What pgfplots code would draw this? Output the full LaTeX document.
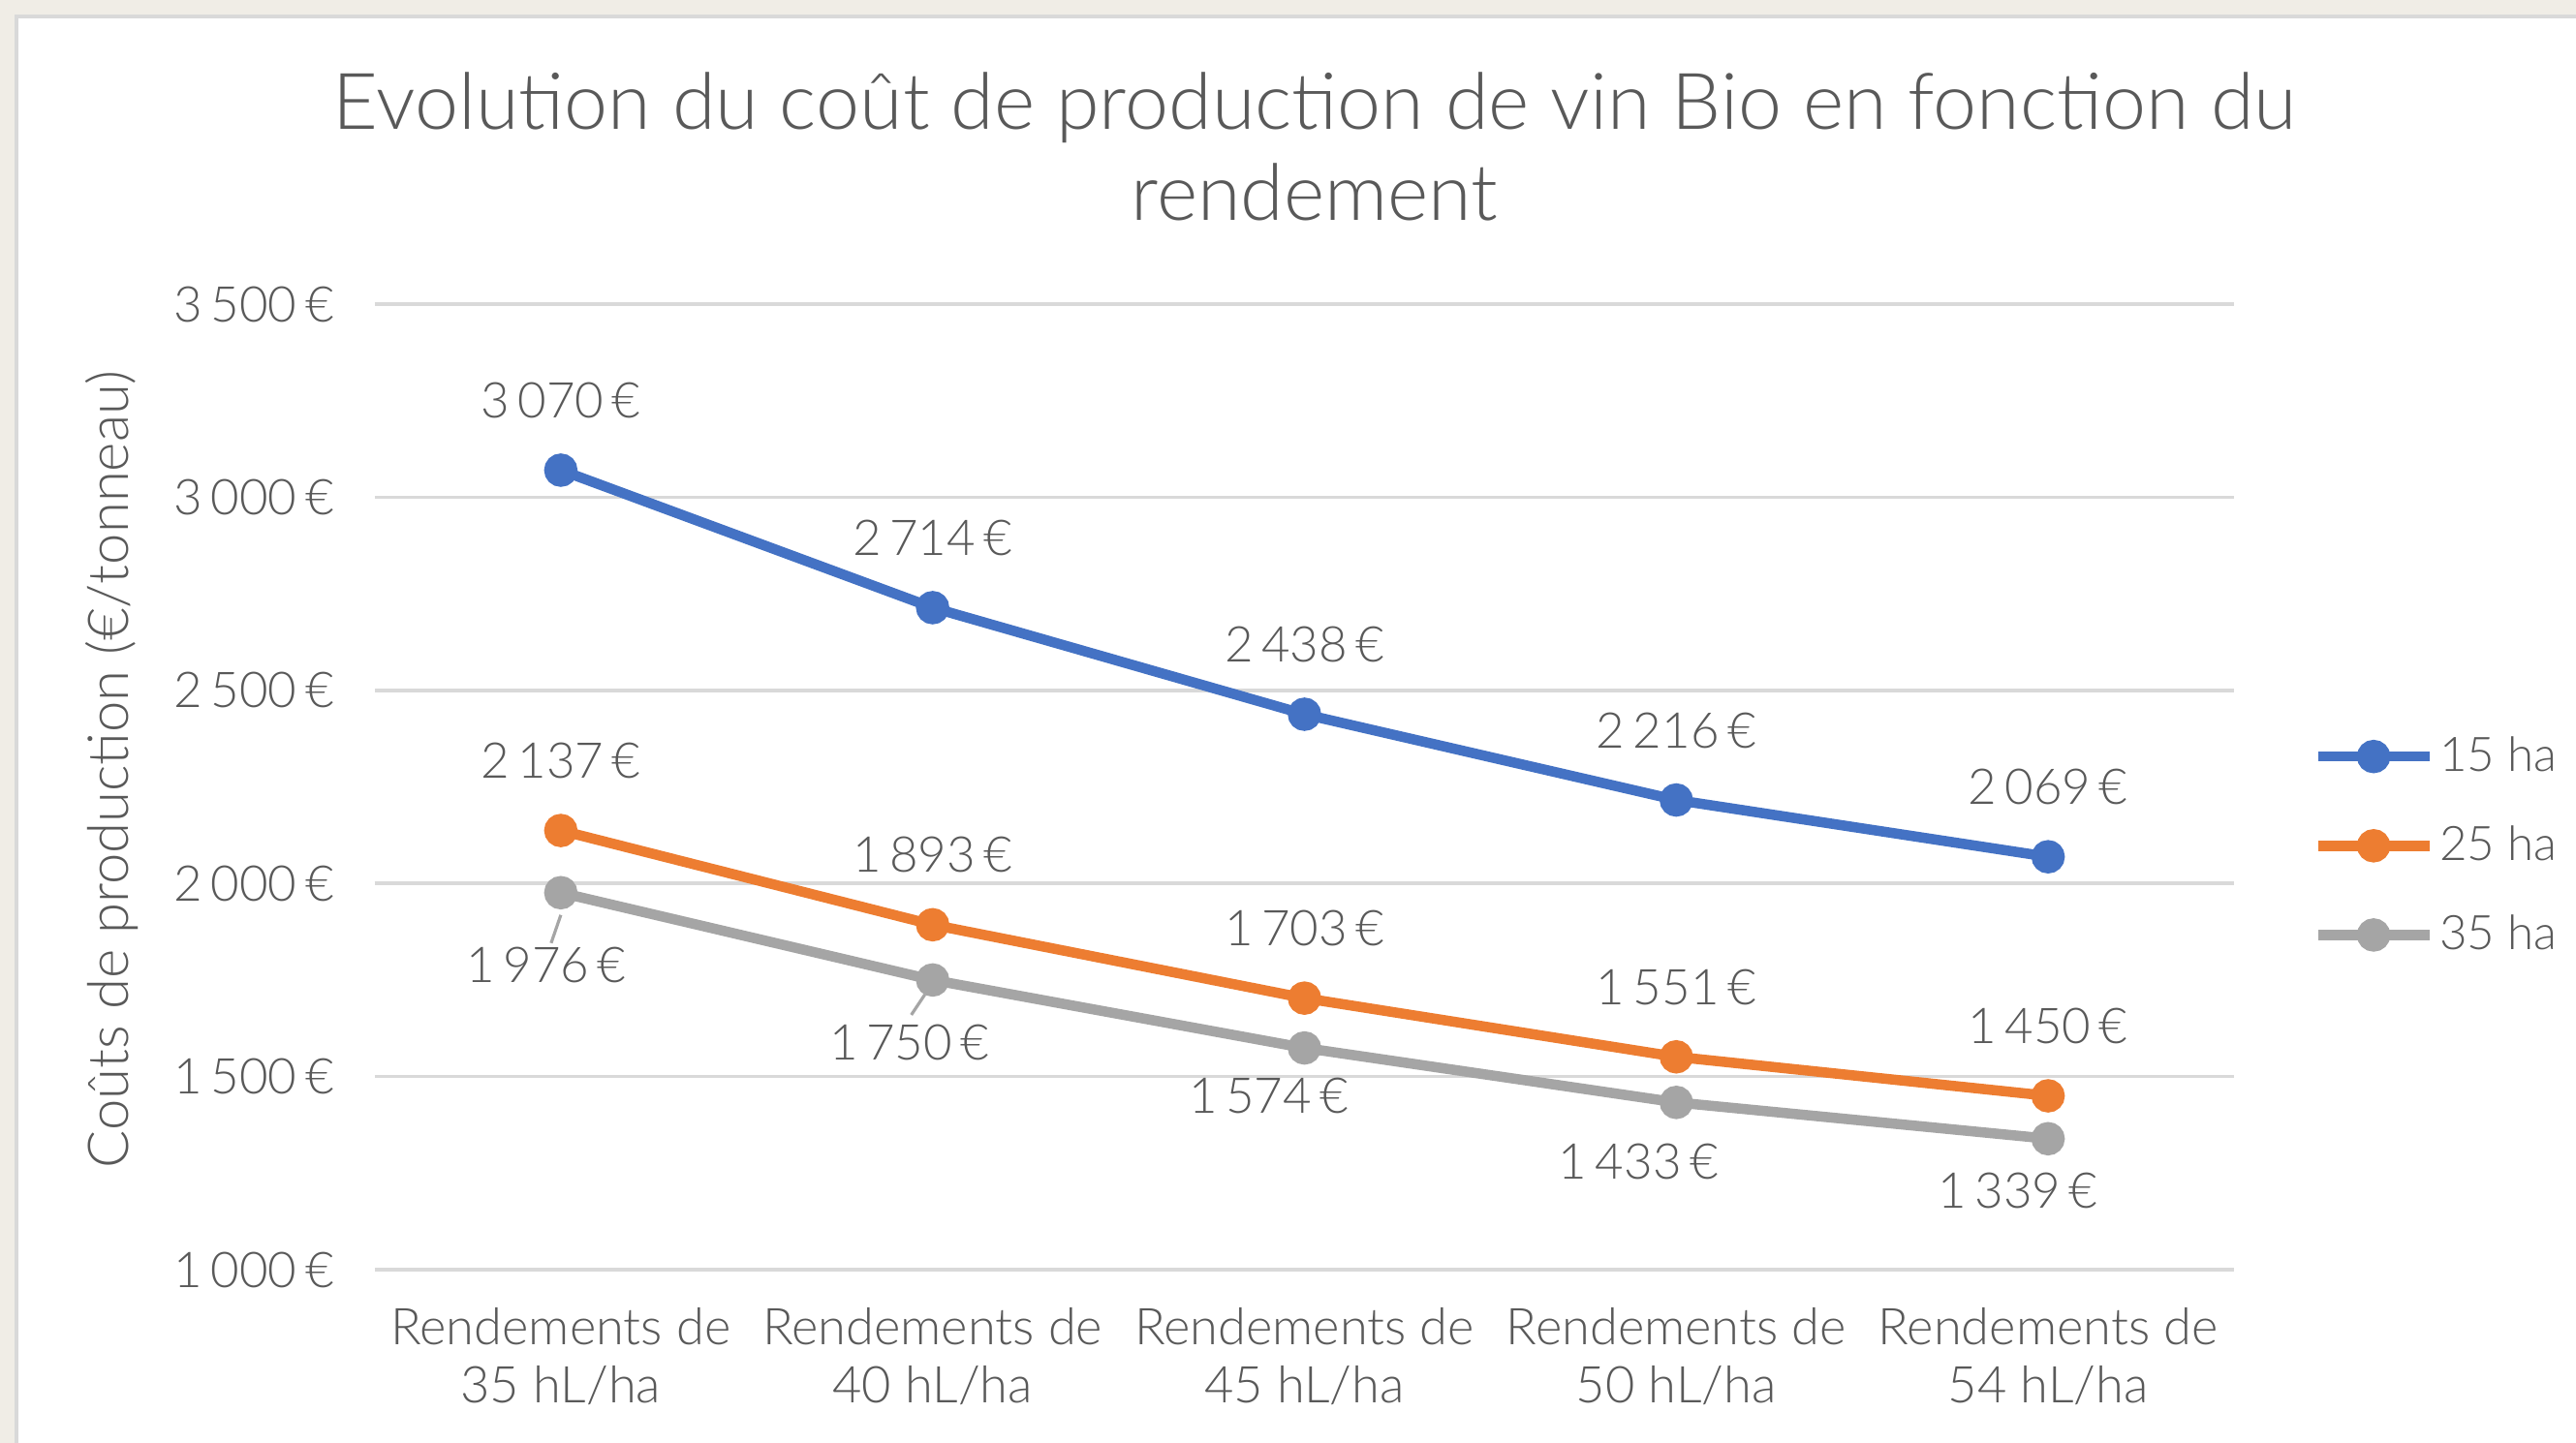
\documentclass[border=0pt]{standalone}
\usepackage{pgfplots}
\pgfplotsset{compat=1.18}
\usepackage{pgfplotstable}
\usepackage{fontspec}
\IfFontExistsTF{Lato Light}{\setmainfont{Lato Light}}{\setmainfont{Lato}}
\definecolor{bg}{RGB}{240,237,230}
\definecolor{txt}{RGB}{89,89,89}
\definecolor{gridc}{RGB}{217,217,217}
\definecolor{cblue}{RGB}{68,114,196}
\definecolor{corange}{RGB}{237,125,49}
\definecolor{cgray}{RGB}{165,165,165}

\pgfplotstableread{
x y dx dy
0 3070 0 0.72
1 2714 0 0.72
2 2438 0 0.72
3 2216 0 0.72
4 2069 0 0.72
}\fifteen
\pgfplotstableread{
x y dx dy
0 2137 0 0.72
1 1893 0 0.72
2 1703 0 0.72
3 1551 0 0.72
4 1450 0 0.72
}\twentyfive
\pgfplotstableread{
x y dx dy
0 1976 -0.15 -0.75
1 1750 -0.24 -0.65
2 1574 -0.37 -0.49
3 1433 -0.39 -0.61
4 1339 -0.31 -0.54
}\thirtyfive

\pgfplotsset{
  lbl/.style={
    nodes near coords={\pgfmathprintnumber{\pgfplotspointmeta}\,€},
    visualization depends on={\thisrow{dx} \as \dx},
    visualization depends on={\thisrow{dy} \as \dy},
    nodes near coords style={font=\fontsize{14.5}{17}\selectfont, text=txt, anchor=center, xshift=\dx*1cm, yshift=\dy*1cm},
  }
}

\begin{document}
\begin{tikzpicture}
\useasboundingbox (0,0) rectangle (26.59cm,14.90cm);
\fill[bg] (0,0) rectangle (26.59cm,14.90cm);
\fill[white] (0.17cm,0) rectangle (26.59cm,14.73cm);
\draw[gridc, line width=1.2pt] (0.17cm,0) -- (0.17cm,14.73cm) -- (26.59cm,14.73cm);
\node[txt, font=\fontsize{23}{26.5}\selectfont, align=center] at (13.57cm, 13.385cm)
  {Evolution du coût de production de vin Bio en fonction du\\rendement};
\begin{axis}[
  at={(3.87cm,1.79cm)}, anchor=south west,
  scale only axis, width=19.19cm, height=9.97cm,
  xmin=-0.5, xmax=4.5, ymin=1000, ymax=3500,
  ytick={1000,1500,2000,2500,3000,3500},
  xtick={0,1,2,3,4},
  xticklabels={{Rendements de\\35 hL/ha},{Rendements de\\40 hL/ha},{Rendements de\\45 hL/ha},{Rendements de\\50 hL/ha},{Rendements de\\54 hL/ha}},
  axis line style={draw=none},
  major tick length=0pt,
  ymajorgrids,
  grid style={draw=gridc, line width=1pt},
  /pgf/number format/assume math mode=true,
  /pgf/number format/.cd, fixed, precision=0, 1000 sep={\,},
  /pgfplots/.cd,
  yticklabel={\pgfmathprintnumber{\tick}\,€},
  yticklabel style={font=\fontsize{14.5}{17}\selectfont, text=txt, xshift=-0.3cm},
  xticklabel style={font=\fontsize{14.9}{17.2}\selectfont, text=txt, align=center, anchor=north, yshift=-0.27cm},
  ylabel={Coûts de production (€/tonneau)},
  every axis y label/.style={at={(axis description cs:-0.1417,0.518)}, rotate=90, anchor=center, font=\fontsize{16.5}{19}\selectfont, text=txt},
  point meta=explicit,
  legend style={at={(axis description cs:1.042,0.439)}, anchor=west, draw=none, fill=none,
    font=\fontsize{14}{17}\selectfont, text=txt, row sep=0.37cm, inner sep=0pt,
    nodes={inner xsep=1.5pt}},
  legend cell align=left,
  legend image code/.code={\draw[mark repeat=2,mark phase=2,#1] plot coordinates {(0cm,0cm) (0.575cm,0cm) (1.15cm,0cm)};},
  every axis plot/.append style={line width=3pt, mark=*, mark size=3.4pt},
]
\addplot[cblue, mark options={fill=cblue, draw=cblue}, lbl] table[x=x, y=y, meta=y] {\fifteen};
\addlegendentry{15 ha}
\addplot[corange, mark options={fill=corange, draw=corange}, lbl] table[x=x, y=y, meta=y] {\twentyfive};
\addlegendentry{25 ha}
\addplot[cgray, mark options={fill=cgray, draw=cgray}, lbl] table[x=x, y=y, meta=y] {\thirtyfive};
\addlegendentry{35 ha}
\draw[cgray, line width=0.9pt] ([yshift=-0.23cm]axis cs:0,1976) -- ([xshift=-0.10cm,yshift=-0.52cm]axis cs:0,1976);
\draw[cgray, line width=0.9pt] ([xshift=-0.08cm,yshift=-0.15cm]axis cs:1,1750) -- ([xshift=-0.22cm,yshift=-0.36cm]axis cs:1,1750);
\end{axis}
\end{tikzpicture}
\end{document}
